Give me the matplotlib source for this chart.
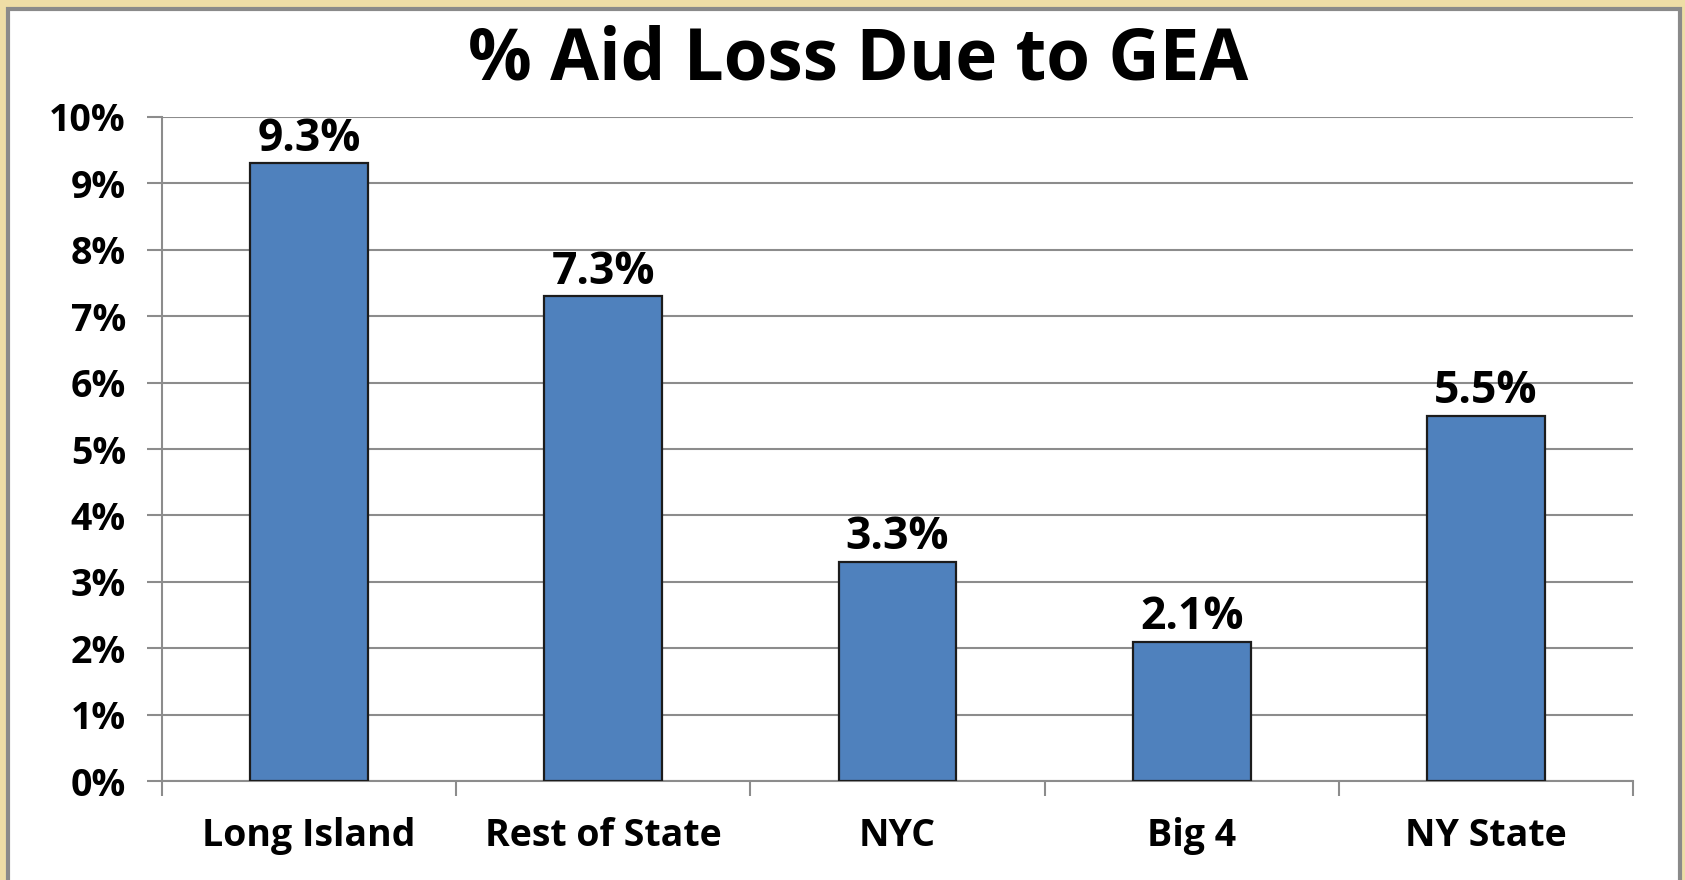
import matplotlib
matplotlib.use('Agg')
import matplotlib.pyplot as plt
from matplotlib.patches import Rectangle
from matplotlib.ticker import FuncFormatter

categories = ['Long Island', 'Rest of State', 'NYC', 'Big 4', 'NY State']
aid_loss = [9.3, 7.3, 3.3, 2.1, 5.5]
y_ticks = list(range(0, 11))

FONT = ['Open Sans', 'DejaVu Sans']
BAR = '#4F81BD'
GRID = '#8C8C8C'

fig = plt.figure(figsize=(16.85, 8.8), dpi=100)
fig.patch.set_facecolor('#EEDDA6')

# white slide panel with grey frame, kept behind the axes
panel = Rectangle((8 / 1685, -0.05), (1680 - 8) / 1685, 1.05 - 9 / 880,
                  transform=fig.transFigure, facecolor='white',
                  edgecolor='#8A8A8A', linewidth=3, zorder=-10)
fig.patches.append(panel)

ax = fig.add_axes([162 / 1685, 99 / 880, 1471 / 1685, 664 / 880])
ax.set_facecolor('none')

x = range(len(categories))
bars = ax.bar(x, aid_loss, width=0.4, color=BAR, edgecolor='#1C1C1C',
              linewidth=1.6, zorder=3)

for b, v in zip(bars, aid_loss):
    ax.annotate('{:.1f}%'.format(v), (b.get_x() + b.get_width() / 2, v),
                xytext=(0, 1), textcoords='offset points', ha='center',
                va='bottom', fontsize=32, fontweight='bold', family=FONT,
                color='black')

ax.set_xlim(-0.5, len(categories) - 0.5)
ax.set_ylim(0, 10)
ax.set_yticks(y_ticks)
ax.yaxis.set_major_formatter(FuncFormatter(lambda v, p: '{:d}%'.format(int(v))))
ax.set_xticks(x)
ax.set_xticklabels(categories)
ax.set_xticks([i + 0.5 for i in range(-1, len(categories))], minor=True)

ax.grid(axis='y', color=GRID, linewidth=1.5, zorder=0)
ax.set_axisbelow(True)
for s in ['top', 'right']:
    ax.spines[s].set_visible(False)
for s in ['left', 'bottom']:
    ax.spines[s].set_color(GRID)
    ax.spines[s].set_linewidth(1.5)

ax.tick_params(axis='y', length=11, width=1.5, color=GRID, pad=15)
ax.tick_params(axis='x', which='major', length=0, pad=26)
ax.tick_params(axis='x', which='minor', length=11, width=1.5, color=GRID)
for lbl in ax.get_xticklabels() + ax.get_yticklabels():
    lbl.set_fontsize(27)
    lbl.set_fontweight('bold')
    lbl.set_family(FONT)

fig.text(858 / 1685, 1 - 61 / 880, '% Aid Loss Due to GEA', ha='center',
         va='center', fontsize=51, fontweight='bold', family=FONT)

fig.savefig('out.png', dpi=100, facecolor=fig.get_facecolor())
